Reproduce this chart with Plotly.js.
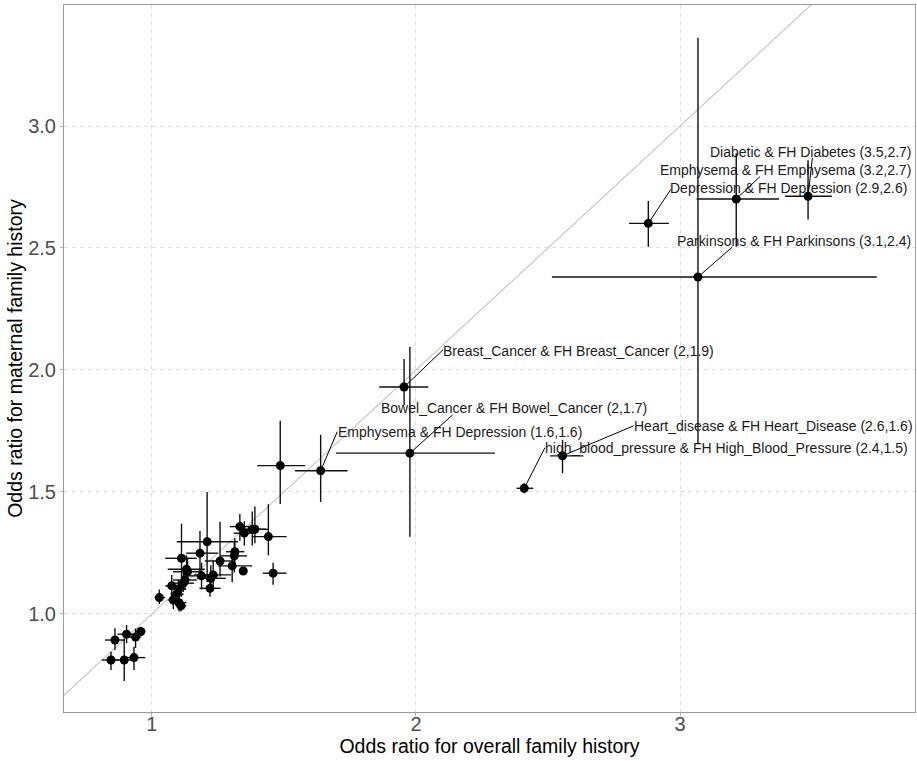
<!DOCTYPE html>
<html><head><meta charset="utf-8">
<script src="https://cdn.plot.ly/plotly-3.0.1.min.js"></script>
<style>html,body{margin:0;padding:0;background:#fff;}#chart{width:917px;height:761px;}</style>
</head><body><div id="chart"></div>
<script>
// Odds ratio for overall family history (point, lower, upper)
const orOverall     = [0.845,0.860,0.895,0.904,0.938,0.958,0.932,1.028,1.075,1.081,1.093,1.100,1.103,1.110,1.112,1.119,1.125,1.131,1.135,1.182,1.209,1.188,1.223,1.232,1.220,1.258,1.304,1.312,1.314,1.333,1.350,1.346,1.380,1.390,1.441,1.459,1.486,1.639,1.955,1.977,2.410,2.555,2.880,3.213,3.485,3.068];
const orOverallLow  = [0.810,0.822,0.862,0.870,0.905,0.940,0.905,1.010,1.050,1.060,1.070,1.070,1.080,1.090,1.050,1.080,1.080,1.060,1.080,1.130,1.094,1.130,1.170,1.160,1.180,1.200,1.250,1.260,1.280,1.295,1.310,1.330,1.330,1.340,1.380,1.420,1.399,1.542,1.861,1.697,2.381,2.508,2.807,3.063,3.398,2.515];
const orOverallHigh = [0.875,0.898,0.930,0.940,0.960,0.975,0.975,1.050,1.100,1.100,1.120,1.130,1.130,1.130,1.170,1.160,1.170,1.200,1.190,1.250,1.326,1.250,1.280,1.300,1.260,1.314,1.380,1.360,1.350,1.370,1.390,1.360,1.430,1.440,1.510,1.510,1.580,1.741,2.047,2.299,2.444,2.634,2.958,3.375,3.575,3.745];
// Odds ratio for maternal family history (point, lower, upper)
const orMaternal     = [0.811,0.893,0.811,0.917,0.905,0.928,0.821,1.067,1.115,1.057,1.081,1.101,1.046,1.033,1.228,1.126,1.139,1.183,1.173,1.249,1.296,1.156,1.146,1.160,1.105,1.217,1.197,1.238,1.255,1.358,1.331,1.176,1.347,1.347,1.317,1.167,1.608,1.587,1.930,1.659,1.515,1.648,2.601,2.701,2.712,2.381];
const orMaternalLow  = [0.770,0.852,0.725,0.880,0.860,0.910,0.770,1.040,1.070,1.020,1.050,1.060,1.010,1.010,1.070,1.090,1.100,1.130,1.120,1.140,1.130,1.100,1.090,1.110,1.070,1.153,1.130,1.170,1.190,1.300,1.280,1.160,1.280,1.290,1.240,1.120,1.451,1.459,1.855,1.316,1.495,1.577,2.505,2.505,2.617,1.700];
const orMaternalHigh = [0.845,0.941,0.900,0.955,0.940,0.945,0.865,1.100,1.160,1.090,1.120,1.140,1.080,1.060,1.370,1.170,1.180,1.240,1.230,1.340,1.500,1.210,1.200,1.220,1.140,1.378,1.260,1.300,1.310,1.410,1.380,1.190,1.420,1.440,1.450,1.210,1.792,1.734,2.045,2.094,1.536,1.713,2.693,2.888,2.860,3.362];
// Labels (index into the arrays above)
const labelIndex = [37,38,39,40,41,42,43,44,45];
const labelText = [
  "Emphysema & FH Depression (1.6,1.6)",
  "Breast_Cancer & FH Breast_Cancer (2,1.9)",
  "Bowel_Cancer & FH Bowel_Cancer (2,1.7)",
  "high_blood_pressure & FH High_Blood_Pressure (2.4,1.5)",
  "Heart_disease & FH Heart_Disease (2.6,1.6)",
  "Depression & FH Depression (2.9,2.6)",
  "Emphysema & FH Emphysema (3.2,2.7)",
  "Diabetic & FH Diabetes (3.5,2.7)",
  "Parkinsons & FH Parkinsons (3.1,2.4)"
];
const xTickVals = [1,2,3];
const yTickVals = [1.0,1.5,2.0,2.5,3.0];

// label placement in pixels relative to the point: [text dx, text dy(up), leader dx, leader dy(up)]
const labelPlace = [
  [15,39,16.6,39],
  [37,35.6,39,37.3],
  [-31,45,42.7,38.3],
  [19,40,20.7,40.6],
  [69,30,71,30],
  [20,35,22.5,34],
  [-78,29,23.7,22.3],
  [-100,44,4.3,38.4],
  [-23,36,34.4,30]
];

const FONT = 'Liberation Sans, Arial, Helvetica, sans-serif';

const diag = {x:[0,5], y:[0,5], mode:'lines', type:'scatter',
  line:{color:'#c4c4c4', width:1.1}, hoverinfo:'skip', showlegend:false};

const pts = {
  x: orOverall, y: orMaternal, type:'scatter', mode:'markers',
  marker:{color:'#000', size:9},
  error_x:{type:'data', symmetric:false,
    array: orOverall.map((v,i)=>orOverallHigh[i]-v),
    arrayminus: orOverall.map((v,i)=>v-orOverallLow[i]),
    width:0, thickness:1.4, color:'#111'},
  error_y:{type:'data', symmetric:false,
    array: orMaternal.map((v,i)=>orMaternalHigh[i]-v),
    arrayminus: orMaternal.map((v,i)=>v-orMaternalLow[i]),
    width:0, thickness:1.4, color:'#111'},
  hoverinfo:'skip', showlegend:false
};

const shapes = labelIndex.map((idx,k)=>({
  type:'line', xref:'x', yref:'y', xsizemode:'pixel', ysizemode:'pixel',
  xanchor: orOverall[idx], yanchor: orMaternal[idx],
  x0:0, y0:0, x1:labelPlace[k][2], y1:labelPlace[k][3],
  line:{color:'#000', width:1}
}));

const annotations = labelIndex.map((idx,k)=>({
  x: orOverall[idx], y: orMaternal[idx], xref:'x', yref:'y',
  text: labelText[k], showarrow:false,
  xanchor:'left', yanchor:'middle',
  xshift: labelPlace[k][0], yshift: labelPlace[k][1],
  font:{family:FONT, size:14, color:'#1a1a1a'}
}));

const axisCommon = {
  showline:true, mirror:true, linecolor:'#9a9a9a', linewidth:1,
  showgrid:true, gridcolor:'#e0e0e0', gridwidth:1, griddash:'4px,4px',
  zeroline:false, ticks:'outside', ticklen:3, tickcolor:'#b0b0b0',
  tickfont:{family:FONT, size:20, color:'#4d4d4d'}
};

const layout = {
  width:917, height:761,
  margin:{l:64, r:2, t:5, b:49},
  paper_bgcolor:'#fff', plot_bgcolor:'#fff',
  showlegend:false, hovermode:false,
  xaxis: Object.assign({}, axisCommon, {
    range:[0.667,3.890], tickvals:xTickVals, ticklabelstandoff:-9,
    title:{text:'Odds ratio for overall family history', font:{family:FONT, size:19.5, color:'#000'}, standoff:5}
  }),
  yaxis: Object.assign({}, axisCommon, {
    range:[0.598,3.496], tickvals:yTickVals, tickformat:'.1f',
    title:{text:'Odds ratio for maternal family history', font:{family:FONT, size:19.5, color:'#000'}, standoff:0}
  }),
  shapes: shapes,
  annotations: annotations
};

Plotly.newPlot('chart', [diag, pts], layout, {displayModeBar:false, staticPlot:true});
</script>
</body></html>
